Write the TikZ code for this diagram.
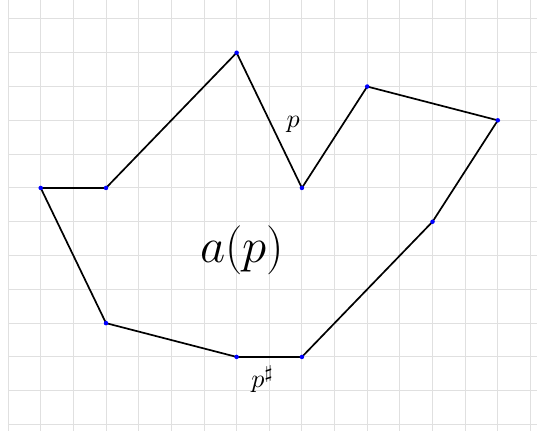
\RequirePackage{fix-cm}
\documentclass[tikz,border=0pt]{standalone}
\begin{document}
\begin{tikzpicture}[x=32.65pt,y=33.8pt,
  gridline/.style={draw=black!12,line width=0.9pt},
  edge/.style={draw=black,line width=1.7pt,line join=round},
  vdot/.style={circle,fill=blue,inner sep=0pt,minimum size=4.5pt},
  lbl/.style={inner sep=0pt}]
\useasboundingbox (-1.247,-7.19) rectangle (15.2,5.56);
\fill[white] (-1.247,-7.19) rectangle (15.2,5.56);
\foreach \i in {-1,...,15} \draw[gridline] (\i,-7.19) -- (\i,5.56);
\foreach \j in {-7,...,5} \draw[gridline] (-1,\j) -- (15.2,\j);
\coordinate (A) at (0,0);
\coordinate (B) at (2,0);
\coordinate (C) at (6,4);
\coordinate (D) at (8,0);
\coordinate (E) at (10,3);
\coordinate (F) at (14,2);
\coordinate (G) at (12,-1);
\coordinate (H) at (8,-5);
\coordinate (I) at (6,-5);
\coordinate (J) at (2,-4);
\draw[edge] (A) -- (B) -- (C) -- (D) -- (E) -- (F) -- (G) -- (H) -- (I) -- (J) -- cycle;
\foreach \v in {A,B,C,D,E,F,G,H,I,J} \node[vdot] at (\v) {};
\node[lbl,scale=2.6] (lp) at (7.73,1.87) {$p$};
\node[lbl,scale=2.6] (lps) at (6.8,-5.66) {$p^\sharp$};
\node[lbl] (lap) at (6.17,-1.83) {\fontsize{49}{58}\selectfont $a(p)$};
\end{tikzpicture}
\end{document}
